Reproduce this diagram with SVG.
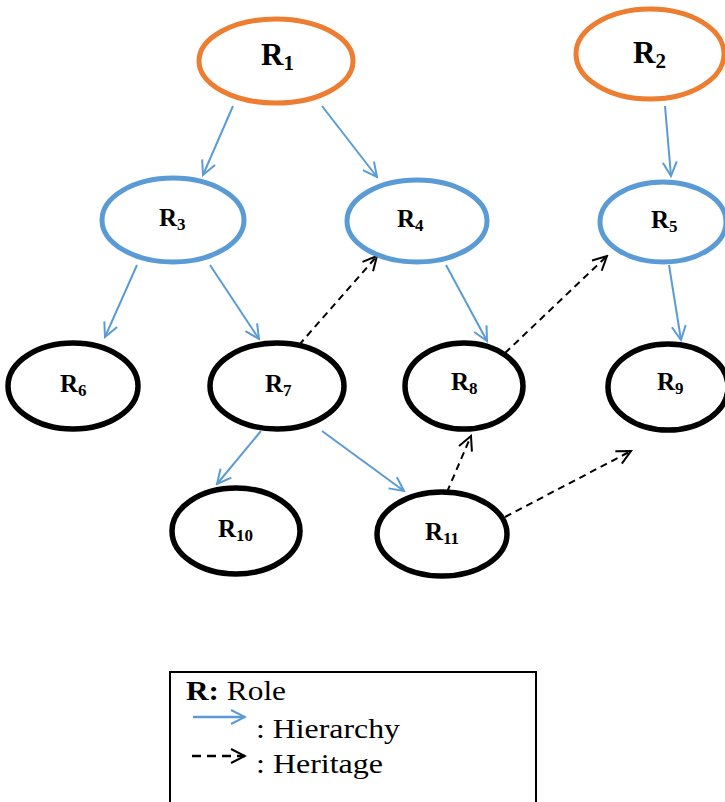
<svg xmlns="http://www.w3.org/2000/svg" width="725" height="802" viewBox="0 0 725 802">
  <style>
    .top { fill: #fff; stroke: #ED7D31; stroke-width: 5; }
    .mid { fill: #fff; stroke: #5B9BD5; stroke-width: 5; }
    .leaf { fill: #fff; stroke: #000; stroke-width: 5.5; }
    .lbl { font-family: "Liberation Serif", "Times New Roman", serif; font-weight: bold; font-size: 25px; fill: #000; }
    .big { font-size: 31px; }
    .sub { font-size: 17px; }
    .bigsub { font-size: 21px; }
    .hier { fill: none; stroke: #5B9BD5; stroke-width: 2; marker-end: url(#hArrow); }
    .herit { fill: none; stroke: #000; stroke-width: 2; stroke-dasharray: 7 5; marker-end: url(#dArrow); }
    .legend { font-family: "Liberation Serif", "Times New Roman", serif; font-size: 28px; fill: #000; }
  </style>
  <defs>
    <marker id="hArrow" markerUnits="userSpaceOnUse" markerWidth="18" markerHeight="18" viewBox="0 0 18 18" refX="16" refY="9" orient="auto">
      <path d="M2,2 L16,9 L2,16" fill="none" stroke="#5B9BD5" stroke-width="2"/>
    </marker>
    <marker id="dArrow" markerUnits="userSpaceOnUse" markerWidth="18" markerHeight="18" viewBox="0 0 18 18" refX="16" refY="9" orient="auto">
      <path d="M2,2 L16,9 L2,16" fill="none" stroke="#000" stroke-width="2"/>
    </marker>
  </defs>
  <rect width="725" height="802" fill="#fff"/>

  <g id="connectors">
    <line class="hier" x1="233" y1="106" x2="203" y2="175"/>
    <line class="hier" x1="322" y1="106" x2="377" y2="177"/>
    <line class="hier" x1="665" y1="106" x2="671" y2="176"/>
    <line class="hier" x1="137" y1="265" x2="105" y2="337"/>
    <line class="hier" x1="210" y1="265" x2="259" y2="339"/>
    <line class="hier" x1="446" y1="265" x2="487" y2="341"/>
    <line class="hier" x1="669" y1="265" x2="681" y2="340"/>
    <line class="hier" x1="261" y1="431" x2="217" y2="484"/>
    <line class="hier" x1="322" y1="431" x2="404" y2="491"/>
    <line class="herit" x1="299" y1="345" x2="377" y2="256"/>
    <line class="herit" x1="505" y1="353" x2="607" y2="256"/>
    <line class="herit" x1="447" y1="492" x2="471" y2="436"/>
    <line class="herit" x1="505" y1="517" x2="631" y2="451"/>
  </g>

  <g id="R1">
    <ellipse class="top" cx="276" cy="61" rx="77" ry="42"/>
    <text class="lbl big" x="261" y="65">R<tspan class="bigsub" dy="5">1</tspan></text>
  </g>
  <g id="R2">
    <ellipse class="top" cx="650" cy="54" rx="74" ry="45"/>
    <text class="lbl big" x="633" y="63">R<tspan class="bigsub" dy="5">2</tspan></text>
  </g>
  <g id="R3">
    <ellipse class="mid" cx="173" cy="220" rx="71" ry="42"/>
    <text class="lbl" x="159" y="226">R<tspan class="sub" dy="4">3</tspan></text>
  </g>
  <g id="R4">
    <ellipse class="mid" cx="417" cy="221" rx="70" ry="41"/>
    <text class="lbl" x="397" y="227">R<tspan class="sub" dy="4">4</tspan></text>
  </g>
  <g id="R5">
    <ellipse class="mid" cx="663" cy="222" rx="63" ry="40"/>
    <text class="lbl" x="651" y="228">R<tspan class="sub" dy="4">5</tspan></text>
  </g>
  <g id="R6">
    <ellipse class="leaf" cx="73" cy="386" rx="65" ry="43"/>
    <text class="lbl" x="60" y="392">R<tspan class="sub" dy="4">6</tspan></text>
  </g>
  <g id="R7">
    <ellipse class="leaf" cx="277" cy="386" rx="67" ry="43"/>
    <text class="lbl" x="265" y="392">R<tspan class="sub" dy="4">7</tspan></text>
  </g>
  <g id="R8">
    <ellipse class="leaf" cx="464" cy="386" rx="59" ry="43"/>
    <text class="lbl" x="451" y="390">R<tspan class="sub" dy="4">8</tspan></text>
  </g>
  <g id="R9">
    <ellipse class="leaf" cx="668" cy="387" rx="60" ry="43"/>
    <text class="lbl" x="657" y="390">R<tspan class="sub" dy="4">9</tspan></text>
  </g>
  <g id="R10">
    <ellipse class="leaf" cx="236" cy="531" rx="64" ry="43"/>
    <text class="lbl" x="218" y="537">R<tspan class="sub" dy="4">10</tspan></text>
  </g>
  <g id="R11">
    <ellipse class="leaf" cx="442" cy="534" rx="65" ry="42"/>
    <text class="lbl" x="425" y="540">R<tspan class="sub" dy="4">11</tspan></text>
  </g>

  <g id="legend">
    <rect x="170" y="672" width="366" height="140" fill="none" stroke="#000" stroke-width="2"/>
    <text class="legend" x="186" y="700" textLength="100" lengthAdjust="spacingAndGlyphs"><tspan font-weight="bold">R:</tspan> Role</text>
    <line class="hier" x1="193" y1="717" x2="245" y2="717" style="stroke-width:2.5"/>
    <text class="legend" x="256" y="738" textLength="144" lengthAdjust="spacingAndGlyphs">: Hierarchy</text>
    <line class="herit" x1="192" y1="756" x2="245" y2="756" style="stroke-width:2.5;stroke-dasharray:9 6"/>
    <text class="legend" x="256" y="773" textLength="127" lengthAdjust="spacingAndGlyphs">: Heritage</text>
  </g>
</svg>
